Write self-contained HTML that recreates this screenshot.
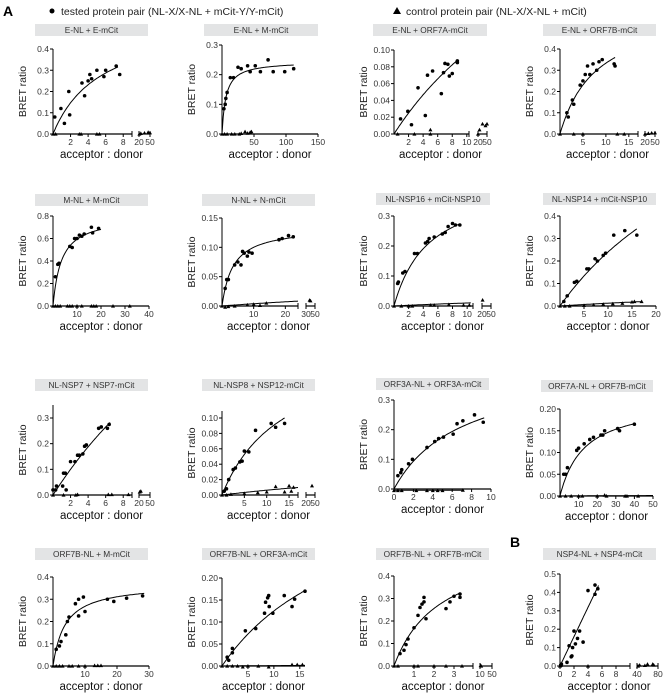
<!DOCTYPE html>
<html><head><meta charset="utf-8">
<style>
html,body{margin:0;padding:0;background:#fff;}
svg{display:block;font-family:"Liberation Sans",Arial,sans-serif;}
</style></head>
<body>
<svg id="fig" width="671" height="699" viewBox="0 0 671 699" xmlns="http://www.w3.org/2000/svg">
<text x="3" y="16" font-size="14" font-weight="bold">A</text>
<g>
<circle cx="52" cy="11" r="2.5" fill="#000"/>
<text x="61" y="15" font-size="10.5" fill="#222">tested protein pair (NL-X/X-NL + mCit-Y/Y-mCit)</text>
</g>
<g>
<path d="M393,14 L397,7 L401,14 Z" fill="#000"/>
<text x="406" y="15" font-size="10.5" fill="#222">control protein pair (NL-X/X-NL + mCit)</text>
</g>
<text x="510" y="547" font-size="14" font-weight="bold">B</text>
</svg>
<script>
// ---------- data arrays ----------
const p1Tested=[[0.2,0.08],[0.9,0.12],[1.3,0.05],[1.8,0.2],[1.9,0.09],[3.3,0.24],[3.6,0.18],[4,0.25],[4.2,0.28],[4.4,0.26],[5,0.3],[5.8,0.27],[6,0.3],[7.2,0.32],[7.6,0.28]];
const p1Control=[[0,0],[0.3,0],[3,0],[3.2,0],[5,0],[5.3,0],[21,0],[25,0.003],[35,0.005],[45,0.008],[50,0.006]];
const p1Fit=[0.55,5.5,7.4];
const p2Tested=[[3,0.085],[5,0.1],[6,0.12],[8,0.14],[13,0.19],[18,0.19],[25,0.225],[30,0.22],[40,0.23],[44,0.21],[52,0.23],[60,0.21],[72,0.25],[80,0.21],[98,0.21],[112,0.22]];
const p2Control=[[0,0],[4,0],[8,0],[15,0],[20,0],[27,0],[30,0.002],[36,0.008],[40,0.003],[44,0.006],[46,0.008]];
const p2Fit=[0.245,6,112];
const p3Tested=[[0.9,0.018],[1.9,0.027],[2.4,0.011],[3.3,0.055],[4.3,0.022],[4.6,0.07],[5.3,0.075],[6.5,0.048],[6.8,0.073],[7,0.084],[7.4,0.083],[7.6,0.069],[8,0.072],[8.7,0.085],[8.7,0.087]];
const p3Control=[[0.5,0],[2.8,0],[5,0.005],[5,0],[20,0],[25,0.005],[35,0.012],[45,0.01],[50,0.012]];
const p3Fit=[0.35,26,8.8];
const p4Tested=[[1.5,0.1],[1.8,0.08],[2.7,0.16],[3,0.14],[4.4,0.23],[5,0.25],[5.5,0.28],[6,0.32],[6.5,0.28],[7.2,0.33],[8,0.3],[8.5,0.34],[9.2,0.35],[11.8,0.33],[12,0.32]];
const p4Control=[[0,0],[3,0],[5,0],[12.5,0],[14,0],[20,0],[30,0.003],[40,0.005],[50,0.006]];
const p4Fit=[0.6,8,12];
const p5Tested=[[1,0.26],[2,0.37],[2.5,0.38],[7,0.53],[8,0.52],[9,0.6],[10,0.6],[11,0.63],[12,0.62],[13,0.64],[16,0.7],[16.5,0.65],[19,0.69]];
const p5Control=[[0,0],[1,0],[2,0],[3,0],[6,0],[7,0],[8,0],[10,0],[12,0],[16,0],[17,0],[18,0],[25,0],[32,0]];
const p5Fit=[0.8,3.5,20];
const p6Tested=[[1,0.03],[1.5,0.045],[2,0.045],[4,0.07],[5,0.075],[6,0.07],[6.5,0.093],[7,0.09],[8,0.085],[8.5,0.092],[9.5,0.09],[18,0.113],[19,0.115],[21,0.12],[22.5,0.118]];
const p6Control=[[0,0],[1,-0.002],[2,-0.001],[4,0],[8,0.002],[10,0.003],[12,0.001],[14,0.005],[38,0.01],[40,0.009]];
const p6Fit=[0.135,3.5,22.5];
const p6CtrlFit=[0.05,120,24];
const p7Tested=[[0.5,0.075],[0.6,0.08],[1.2,0.11],[1.5,0.115],[2.8,0.175],[3.2,0.175],[4.3,0.21],[4.6,0.215],[4.8,0.225],[5.5,0.23],[6.6,0.24],[7,0.245],[7.4,0.265],[8,0.275],[8.4,0.27],[9,0.27]];
const p7Control=[[0,0],[1,0],[2,0],[2.5,0],[5,0.003],[5.5,0.003],[7.5,0.005],[9.5,0.003],[10.3,0.003],[22,0.02]];
const p7Fit=[0.42,4.8,9];
const p7CtrlFit=[0.05,40,10.5];
const p8Tested=[[0.8,0.02],[1.5,0.045],[3,0.105],[3.5,0.11],[5.6,0.165],[6,0.165],[7.3,0.21],[7.8,0.2],[9,0.225],[9.5,0.235],[11.2,0.315],[13.5,0.335],[16,0.315]];
const p8Control=[[0,0],[1,0],[2,0],[5,0.003],[7,0.005],[9,0.008],[11,0.01],[13,0.012],[15,0.018],[15.5,0.02],[17,0.02]];
const p8Fit=[1.2,40,16];
const p8CtrlFit=[0.1,70,17];
const p9Tested=[[0,0.02],[0.3,0.02],[0.4,0.035],[1.1,0.035],[1.2,0.085],[1.4,0.085],[1.5,0.02],[2,0.13],[2.5,0.13],[2.8,0.155],[3,0.155],[3.4,0.16],[3.6,0.19],[3.8,0.195],[5.2,0.26],[5.5,0.265],[6.2,0.26],[6.4,0.275]];
const p9Control=[[0,0],[1.2,0],[2.6,0],[2.8,0.002],[6.3,0.002],[6.7,0.002],[8.6,0.002],[22,0.012],[25,0.015]];
const p9Fit=[1.5,28,6.5];
const p10Tested=[[0.5,0.005],[1,0.008],[1.5,0.02],[2.5,0.033],[3,0.035],[4,0.043],[4.5,0.044],[5,0.057],[6,0.056],[7.5,0.084],[11,0.093],[12,0.088],[14,0.093]];
const p10Control=[[0,0],[1,0],[2,0.001],[5,0.002],[8,0.003],[10,0.004],[12,0.011],[14,0.004],[15,0.012],[15.5,0.005],[16,0.01],[40,0.012]];
const p10Fit=[0.2,14,14];
const p10CtrlFit=[0.05,70,17];
const p11Tested=[[0.4,0.045],[0.7,0.055],[0.8,0.065],[1.5,0.085],[1.9,0.1],[3.4,0.14],[4.2,0.16],[4.6,0.17],[5.1,0.175],[6.1,0.185],[6.5,0.22],[7.1,0.23],[8.3,0.25],[9.2,0.225]];
const p11Control=[[0,-0.005],[0.4,-0.005],[0.8,-0.005],[2.3,-0.005],[3.4,-0.005],[4,-0.005],[4.5,-0.005],[5,-0.005],[7.1,-0.004]];
const p11Fit=[0.42,7,9.3];
const p12Tested=[[2,0.05],[3,0.05],[4,0.065],[9,0.105],[10,0.11],[13,0.12],[16,0.13],[18,0.135],[22,0.14],[23,0.14],[24,0.15],[31,0.155],[32,0.15],[40,0.165]];
const p12Control=[[0,0],[3,0],[6,0],[10,0],[12,0],[20,0],[24,0.002],[25,0],[35,0],[36,0],[42,0]];
const p12Fit=[0.22,13,40];
const p13Tested=[[1,0.075],[2,0.09],[2.5,0.11],[4,0.14],[4.5,0.2],[5,0.22],[7,0.28],[8,0.3],[8,0.225],[9.5,0.31],[10,0.245],[17,0.3],[19,0.29],[23,0.305],[28,0.315]];
const p13Control=[[0,0],[1,0],[2,0],[3,0],[5,0],[6,0],[8,0],[10,0],[13,0.002],[14,0.002],[15,0.002]];
const p13Fit=[0.37,3.8,28.5];
const p14Tested=[[1,0.02],[1.3,0.013],[2,0.04],[2,0.03],[4.5,0.08],[6.5,0.085],[8.2,0.12],[8.4,0.145],[8.8,0.155],[9,0.16],[9.1,0.135],[9.8,0.12],[12,0.16],[13.5,0.135],[14,0.152],[16,0.17]];
const p14Control=[[0,0],[1,0],[2,0],[3,0],[4,-0.002],[5,0],[7,0],[9,-0.002],[13.5,0.003],[14.5,0.003],[15.5,0.003]];
const p14Fit=[0.45,26,16];
const p15Tested=[[0.3,0.055],[0.5,0.07],[0.6,0.095],[0.7,0.12],[1,0.17],[1.2,0.225],[1.3,0.26],[1.4,0.275],[1.5,0.285],[1.5,0.305],[1.6,0.21],[2.6,0.255],[2.8,0.285],[3,0.31],[3.3,0.305],[3.3,0.32]];
const p15Control=[[0,0],[0.2,0],[1,0],[1.2,0],[2,0],[2.6,0],[3.4,0],[12,0.002],[14,0]];
const p15Fit=[0.55,2.3,3.3];
const p16Tested=[[0.1,0.005],[0.2,0.01],[1,0.02],[1.3,0.11],[1.6,0.05],[1.7,0.055],[1.8,0.1],[2,0.19],[2.2,0.12],[2.5,0.15],[2.8,0.19],[3.3,0.13],[4,0.41],[5,0.44],[5,0.39],[5.4,0.42]];
const p16Control=[[0,0],[0.1,0.003],[4,0],[42,0],[45,0.005],[55,0.003],[60,0.01],[70,0.01],[72,0.005]];
const p16Fit=[80,1000,5.5];

// ---------- layout (pixels) ----------
const panels=[
 {id:'e-e',title:'E-NL + E-mCit',tb:[35,24,113],x0:53,x1:132,xMax:9,xTicks:[2,4,6,8],brk:[139,150,20,50],yB:134,yT:49,yMax:0.4,yTicks:[0,0.1,0.2,0.3,0.4],dec:1,t:p1Tested,c:p1Control,f:p1Fit},
 {id:'e-m',title:'E-NL + M-mCit',tb:[204,24,114],x0:222,x1:318,xMax:150,xTicks:[50,100,150],yB:134,yT:45,yMax:0.3,yTicks:[0,0.1,0.2,0.3],dec:1,t:p2Tested,c:p2Control,f:p2Fit},
 {id:'e-orf7a',title:'E-NL + ORF7A-mCit',tb:[373,24,114],x0:394,x1:469,xMax:10.3,xTicks:[2,4,6,8,10],brk:[478,487,20,50],yB:134,yT:50,yMax:0.1,yTicks:[0,0.02,0.04,0.06,0.08,0.10],dec:2,t:p3Tested,c:p3Control,f:p3Fit},
 {id:'e-orf7b',title:'E-NL + ORF7B-mCit',tb:[543,24,113],x0:560,x1:638,xMax:17,xTicks:[5,10,15],brk:[645,655,20,50],yB:134,yT:49,yMax:0.4,yTicks:[0,0.1,0.2,0.3,0.4],dec:1,t:p4Tested,c:p4Control,f:p4Fit},
 {id:'m-m',title:'M-NL + M-mCit',tb:[35,194,113],x0:53,x1:149,xMax:40,xTicks:[10,20,30,40],yB:306,yT:216,yMax:0.8,yTicks:[0,0.2,0.4,0.6,0.8],dec:1,t:p5Tested,c:p5Control,f:p5Fit},
 {id:'n-n',title:'N-NL + N-mCit',tb:[202,194,113],x0:222,x1:298,xMax:24,xTicks:[10,20],brk:[306,315,30,50],yB:306,yT:218,yMax:0.15,yTicks:[0,0.05,0.10,0.15],dec:2,t:p6Tested,c:p6Control,f:p6Fit,cf:p6CtrlFit},
 {id:'nsp16-nsp10',title:'NL-NSP16 + mCit-NSP10',tb:[376,193,114],x0:394,x1:473,xMax:10.8,xTicks:[2,4,6,8,10],brk:[482,491,20,50],yB:306,yT:216,yMax:0.3,yTicks:[0,0.1,0.2,0.3],dec:1,t:p7Tested,c:p7Control,f:p7Fit,cf:p7CtrlFit},
 {id:'nsp14-nsp10',title:'NL-NSP14 + mCit-NSP10',tb:[543,193,113],x0:560,x1:656,xMax:20,xTicks:[5,10,15,20],yB:306,yT:216,yMax:0.4,yTicks:[0,0.1,0.2,0.3,0.4],dec:1,t:p8Tested,c:p8Control,f:p8Fit,cf:p8CtrlFit},
 {id:'nsp7-nsp7',title:'NL-NSP7 + NSP7-mCit',tb:[35,379,113],x0:53,x1:132,xMax:9,xTicks:[2,4,6,8],brk:[139,150,20,50],yB:495,yT:418,yMax:0.3,yTop:405,yTicks:[0,0.1,0.2,0.3],dec:1,t:p9Tested,c:p9Control,f:p9Fit},
 {id:'nsp8-nsp12',title:'NL-NSP8 + NSP12-mCit',tb:[202,379,113],x0:222,x1:298,xMax:17,xTicks:[5,10,15],brk:[306,315,20,50],yB:495,yT:418,yMax:0.1,yTop:411,yTicks:[0,0.02,0.04,0.06,0.08,0.10],dec:2,t:p10Tested,c:p10Control,f:p10Fit,cf:p10CtrlFit},
 {id:'orf3a-orf3a',title:'ORF3A-NL + ORF3A-mCit',tb:[376,378,113],x0:394,x1:491,xMax:10,xTicks:[0,2,4,6,8,10],yB:489,yT:400,yMax:0.3,yTicks:[0,0.1,0.2,0.3],dec:1,t:p11Tested,c:p11Control,f:p11Fit,cf:[0,1,7.2],cfY:-0.004},
 {id:'orf7a-orf7b',title:'ORF7A-NL + ORF7B-mCit',tb:[541,380,112],x0:560,x1:653,xMax:50,xTicks:[10,20,30,40,50],yB:496,yT:409,yMax:0.2,yTicks:[0,0.05,0.10,0.15,0.20],dec:2,t:p12Tested,c:p12Control,f:p12Fit,cf:[0.01,400,50]},
 {id:'orf7b-m',title:'ORF7B-NL + M-mCit',tb:[35,548,113],x0:53,x1:149,xMax:30,xTicks:[10,20,30],yB:666,yT:577,yMax:0.4,yTicks:[0,0.1,0.2,0.3,0.4],dec:1,t:p13Tested,c:p13Control,f:p13Fit},
 {id:'orf7b-orf3a',title:'ORF7B-NL + ORF3A-mCit',tb:[202,548,113],x0:222,x1:305,xMax:16,xTicks:[5,10,15],yB:666,yT:578,yMax:0.2,yTicks:[0,0.05,0.10,0.15,0.20],dec:2,t:p14Tested,c:p14Control,f:p14Fit,cf:[0.01,100,16]},
 {id:'orf7b-orf7b',title:'ORF7B-NL + ORF7B-mCit',tb:[376,548,113],x0:394,x1:473,xMax:3.95,xTicks:[1,2,3],brk:[480,492,10,50],yB:666,yT:576,yMax:0.4,yTicks:[0,0.1,0.2,0.3,0.4],dec:1,t:p15Tested,c:p15Control,f:p15Fit,cf:[0,1,3.5]},
 {id:'nsp4-nsp4',title:'NSP4-NL + NSP4-mCit',tb:[543,548,113],x0:560,x1:630,xMax:10,xTicks:[0,2,4,6,8],brk:[637,658,40,80],yB:666,yT:574,yMax:0.5,yTicks:[0,0.1,0.2,0.3,0.4,0.5],dec:1,t:p16Tested,c:p16Control,f:p16Fit}
];

const NS='http://www.w3.org/2000/svg';
const svg=document.getElementById('fig');
function mk(tag,attrs,parent){const e=document.createElementNS(NS,tag);for(const k in attrs)e.setAttribute(k,attrs[k]);parent.appendChild(e);return e;}

panels.forEach(function(p){
  const g=mk('g',{},svg);
  
  
  const xs=function(x){
    if(p.brk && x>p.xMax){const b=p.brk;return b[0]+(x-b[2])/(b[3]-b[2])*(b[1]-b[0]);}
    return p.x0+x/p.xMax*(p.x1-p.x0);
  };
  const ys=function(y){return p.yB-(y/p.yMax)*(p.yB-p.yT);};
  const tbg=mk('g',{},g);
  
  
  mk('rect',{x:p.tb[0],y:p.tb[1],width:p.tb[2],height:12,fill:'#e3e4e5'},tbg);
  const tt=mk('text',{x:p.tb[0]+p.tb[2]/2,y:p.tb[1]+9,'font-size':'8.3','text-anchor':'middle',fill:'#333'},tbg);
  tt.textContent=p.title;
  const yTop=p.yTop!==undefined?p.yTop:p.yT;
  const ya=mk('g',{},g);
  
  
  mk('line',{x1:p.x0,y1:yTop,x2:p.x0,y2:p.yB,stroke:'#000','stroke-width':1},ya);
  p.yTicks.forEach(function(v){
    const y=ys(v);
    mk('line',{x1:p.x0-3,y1:y,x2:p.x0,y2:y,stroke:'#000','stroke-width':1},ya);
    const t=mk('text',{x:p.x0-4,y:y+3,'font-size':'8.5','text-anchor':'end',fill:'#333'},ya);
    t.textContent=v.toFixed(p.dec);
  });
  const yl=mk('text',{x:0,y:0,'font-size':'10.5','text-anchor':'middle',fill:'#222',transform:'translate('+(p.x0-27)+','+((p.yB+yTop)/2)+') rotate(-90)'},g);
  
  
  yl.textContent='BRET ratio';
  const xa=mk('g',{},g);
  
  
  mk('line',{x1:p.x0,y1:p.yB,x2:p.x1,y2:p.yB,stroke:'#000','stroke-width':1.2},xa);
  p.xTicks.forEach(function(v){
    const x=xs(v);
    mk('line',{x1:x,y1:p.yB,x2:x,y2:p.yB+3,stroke:'#000','stroke-width':1},xa);
    const t=mk('text',{x:x,y:p.yB+11,'font-size':'8.5','text-anchor':'middle',fill:'#333'},xa);
    t.textContent=String(v);
  });
  if(p.brk){
    mk('line',{x1:p.x1,y1:p.yB-3,x2:p.x1,y2:p.yB+3,stroke:'#000','stroke-width':1},xa);
    mk('line',{x1:p.brk[0],y1:p.yB,x2:p.brk[1],y2:p.yB,stroke:'#000','stroke-width':1.2},xa);
    [2,3].forEach(function(i){
      const x=p.brk[i-2];
      mk('line',{x1:x,y1:p.yB-3,x2:x,y2:p.yB+3,stroke:'#000','stroke-width':1},xa);
      const t=mk('text',{x:x,y:p.yB+11,'font-size':'8.5','text-anchor':'middle',fill:'#333'},xa);
      t.textContent=String(p.brk[i]);
    });
  }
  const xEnd=p.brk?p.brk[1]:p.x1;
  const xl=mk('text',{x:(p.x0+xEnd)/2,y:p.yB+24,'font-size':'11.5','text-anchor':'middle',fill:'#111'},g);
  
  
  xl.textContent='acceptor : donor';
  function curve(f,yOff,name){
    let d='';
    for(let i=0;i<=60;i++){const x=f[2]*i/60;const y=f[0]*x/(f[1]+x)+(yOff||0);d+=(i?'L':'M')+xs(x).toFixed(1)+','+ys(y).toFixed(1);}
    const c=mk('path',{d:d,fill:'none',stroke:'#000','stroke-width':1},g);
    
    
  }
  curve(p.f,0,'tested-fit-curve');
  if(p.cf) curve(p.cf,p.cfY||0,'control-fit-line');
  p.c.forEach(function(pt){
    const x=xs(pt[0]),y=ys(pt[1]);
    const m=mk('path',{d:'M'+(x-2)+','+(y+1.6)+' L'+x+','+(y-2)+' L'+(x+2)+','+(y+1.6)+' Z',fill:'#000'},g);
    
    
  });
  p.t.forEach(function(pt){
    const m=mk('circle',{cx:xs(pt[0]),cy:ys(pt[1]),r:1.8,fill:'#000'},g);
    
    
  });
});
</script>
</body></html>
